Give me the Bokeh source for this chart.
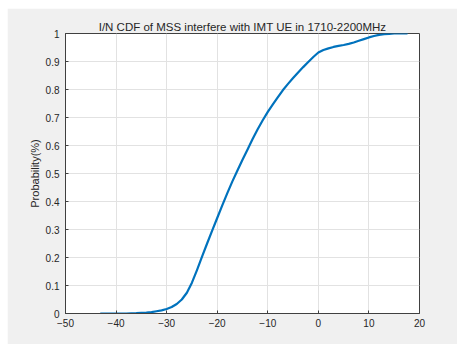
from bokeh.plotting import figure
from bokeh.models import FixedTicker, Range1d, Label, Title
from bokeh.embed import file_html
from bokeh.resources import INLINE

# I/N (dB) and cumulative probability of the interference samples
in_db = [-43, -38, -36, -34, -33, -32, -31, -30, -29, -28, -27, -26, -25,
         -24, -23, -22, -21, -20, -19, -18, -17, -16, -15, -14, -13, -12,
         -11, -10, -9, -8, -7, -6, -5, -4, -3, -2, -1, 0, 1, 2, 3, 4, 5,
         6, 7, 8, 9, 10, 11, 12, 13, 14, 15, 17.5]
cdf = [0.0, 0.0, 0.001, 0.003, 0.005, 0.008, 0.011, 0.016, 0.023, 0.034,
       0.05, 0.074, 0.11, 0.155, 0.203, 0.25, 0.296, 0.341, 0.386,
       0.43, 0.472, 0.511, 0.549, 0.586, 0.623, 0.658, 0.69, 0.72,
       0.747, 0.773, 0.798, 0.82, 0.841, 0.861, 0.88, 0.898, 0.916,
       0.932, 0.941, 0.947, 0.952, 0.956, 0.959, 0.963, 0.968, 0.974,
       0.98, 0.986, 0.991, 0.995, 0.998, 0.999, 1.0, 1.0]

x_ticks = [-50, -40, -30, -20, -10, 0, 10, 20]
y_ticks = [0, 0.1, 0.2, 0.3, 0.4, 0.5, 0.6, 0.7, 0.8, 0.9, 1]

title_text = "I/N CDF of MSS interfere with IMT UE in 1710-2200MHz"
x_label = "I/N(dB)"
y_label = "Probability(%)"

FONT = "Liberation Sans"
INK = "#262626"
AXIS = "#404040"

p = figure(width=450, height=336, output_backend="svg", toolbar_location=None,
           x_range=Range1d(-50, 20), y_range=Range1d(0, 1),
           min_border_left=58, min_border_right=38, min_border_top=25,
           min_border_bottom=31, margin=(8, 0, 0, 7))
p.border_fill_color = "#f0f0f0"
p.background_fill_color = "white"
p.outline_line_color = AXIS
p.outline_line_width = 1

p.title = Title(text=title_text, align="center", text_font=FONT,
                text_font_size="11.5px", text_font_style="normal",
                text_color=INK, standoff=2)

for ax in p.axis:
    ax.axis_line_color = AXIS
    ax.major_tick_line_color = AXIS
    ax.major_tick_in = 3
    ax.major_tick_out = 0
    ax.minor_tick_line_color = None
    ax.major_label_text_font = FONT
    ax.major_label_text_font_size = "10px"
    ax.major_label_text_color = INK

p.xaxis.ticker = FixedTicker(ticks=x_ticks)
p.yaxis.ticker = FixedTicker(ticks=y_ticks)
p.xaxis.major_label_standoff = 5
p.yaxis.major_label_standoff = 6
p.yaxis.major_label_overrides = {0: "0", 1: "1"}
p.yaxis.axis_label = y_label
p.yaxis.axis_label_text_font = FONT
p.yaxis.axis_label_text_font_size = "11px"
p.yaxis.axis_label_text_font_style = "normal"
p.yaxis.axis_label_text_color = INK
p.yaxis.axis_label_standoff = 2

p.xgrid.ticker = FixedTicker(ticks=x_ticks)
p.ygrid.ticker = FixedTicker(ticks=y_ticks)
for g in (p.xgrid[0], p.ygrid[0]):
    g.grid_line_color = "#e2e2e2"
    g.grid_line_width = 1

p.line(in_db, cdf, line_color="#0072BD", line_width=2.2,
       line_join="round", line_cap="round")

p.add_layout(Label(x=177, y=-19, x_units="screen", y_units="screen",
                   text=x_label, text_align="center", text_baseline="top",
                   text_font=FONT, text_font_size="10.5px", text_color=INK))

open("out.html", "w").write(file_html(p, INLINE))
